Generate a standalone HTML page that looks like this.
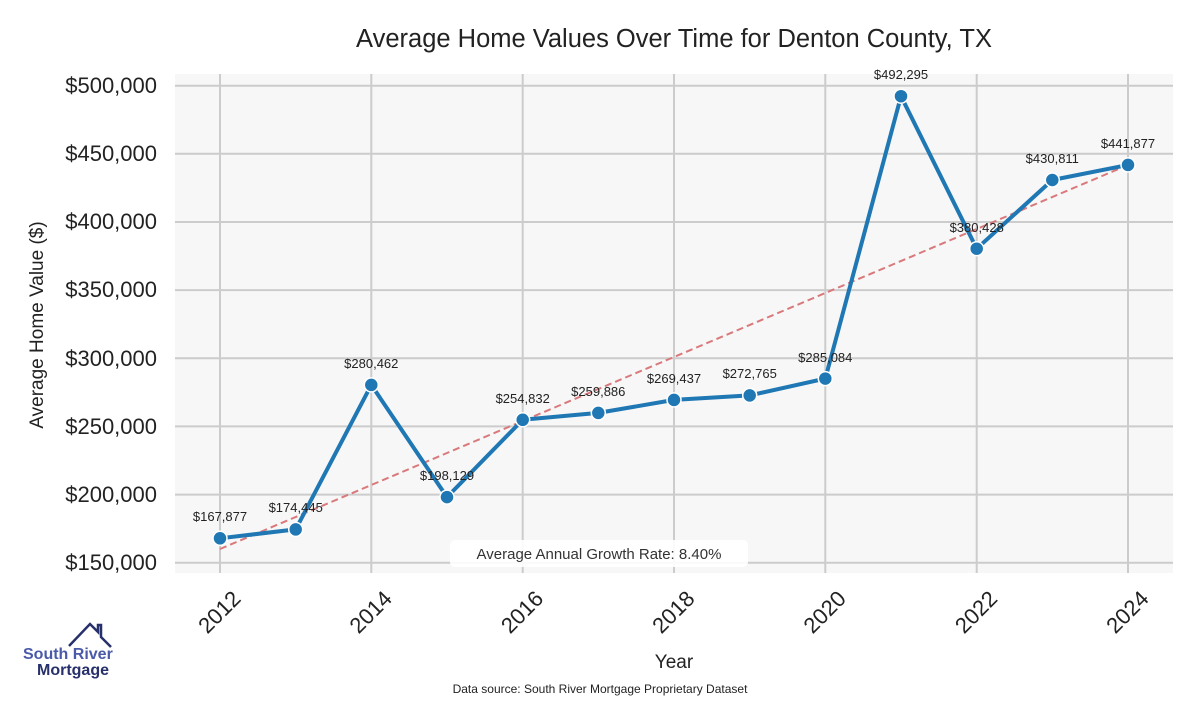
<!DOCTYPE html>
<html><head><meta charset="utf-8"><style>body{margin:0;background:#fff}</style></head><body>
<svg width="1200" height="700" xmlns="http://www.w3.org/2000/svg" font-family="Liberation Sans, sans-serif">
<rect width="1200" height="700" fill="#fff"/>
<rect x="175" y="74" width="998" height="499" fill="#f7f7f7"/>
<g stroke="#cccccc" stroke-width="2">
<line x1="175" x2="1173" y1="85.7" y2="85.7"/><line x1="175" x2="1173" y1="153.8" y2="153.8"/>
<line x1="175" x2="1173" y1="222" y2="222"/><line x1="175" x2="1173" y1="290.1" y2="290.1"/>
<line x1="175" x2="1173" y1="358.3" y2="358.3"/><line x1="175" x2="1173" y1="426.4" y2="426.4"/>
<line x1="175" x2="1173" y1="494.6" y2="494.6"/><line x1="175" x2="1173" y1="562.7" y2="562.7"/>
<line x1="220" x2="220" y1="74" y2="573"/><line x1="371.3" x2="371.3" y1="74" y2="573"/>
<line x1="522.7" x2="522.7" y1="74" y2="573"/><line x1="674" x2="674" y1="74" y2="573"/>
<line x1="825.3" x2="825.3" y1="74" y2="573"/><line x1="976.7" x2="976.7" y1="74" y2="573"/>
<line x1="1128" x2="1128" y1="74" y2="573"/>
</g>
<line x1="220" y1="549" x2="1128" y2="165" stroke="#d9797b" stroke-width="2" stroke-dasharray="7,4"/>
<polyline fill="none" stroke="#1f77b4" stroke-width="4" stroke-linejoin="round" points="220,538.3 295.7,529.4 371.3,384.9 447,497.1 522.7,419.8 598.3,412.9 674,399.9 749.7,395.4 825.3,378.6 901,96.2 976.7,248.7 1052.3,180 1128,164.9"/>
<g fill="#1f77b4" stroke="#fff" stroke-width="1.5">
<circle cx="220" cy="538.3" r="7"/><circle cx="295.7" cy="529.4" r="7"/><circle cx="371.3" cy="384.9" r="7"/><circle cx="447" cy="497.1" r="7"/><circle cx="522.7" cy="419.8" r="7"/><circle cx="598.3" cy="412.9" r="7"/><circle cx="674" cy="399.9" r="7"/><circle cx="749.7" cy="395.4" r="7"/><circle cx="825.3" cy="378.6" r="7"/><circle cx="901" cy="96.2" r="7"/><circle cx="976.7" cy="248.7" r="7"/><circle cx="1052.3" cy="180" r="7"/><circle cx="1128" cy="164.9" r="7"/>
</g>
<g font-size="13" fill="#222" text-anchor="middle">
<text x="220" y="521">$167,877</text><text x="295.7" y="512">$174,445</text><text x="371.3" y="368">$280,462</text><text x="447" y="480">$198,129</text><text x="522.7" y="403">$254,832</text><text x="598.3" y="396">$259,886</text><text x="674" y="383">$269,437</text><text x="749.7" y="378">$272,765</text><text x="825.3" y="362">$285,084</text><text x="901" y="79">$492,295</text><text x="976.7" y="232">$380,428</text><text x="1052.3" y="163">$430,811</text><text x="1128" y="148">$441,877</text>
</g>
<rect x="450" y="540" width="298" height="27" rx="5" fill="#fff" opacity="0.9"/>
<text x="599" y="559" font-size="15" fill="#333" text-anchor="middle">Average Annual Growth Rate: 8.40%</text>
<g font-size="22" fill="#222" text-anchor="end">
<text x="157" y="93">$500,000</text><text x="157" y="161">$450,000</text><text x="157" y="229">$400,000</text><text x="157" y="297">$350,000</text><text x="157" y="366">$300,000</text><text x="157" y="434">$250,000</text><text x="157" y="502">$200,000</text><text x="157" y="570">$150,000</text>
</g>
<g font-size="22" fill="#222" text-anchor="end">
<text transform="translate(242,600) rotate(-45)">2012</text><text transform="translate(393.3,600) rotate(-45)">2014</text><text transform="translate(544.7,600) rotate(-45)">2016</text><text transform="translate(696,600) rotate(-45)">2018</text><text transform="translate(847.3,600) rotate(-45)">2020</text><text transform="translate(998.7,600) rotate(-45)">2022</text><text transform="translate(1150,600) rotate(-45)">2024</text>
</g>
<text x="674" y="668" font-size="19" fill="#222" text-anchor="middle">Year</text>
<text transform="translate(43,325) rotate(-90)" font-size="19" fill="#222" text-anchor="middle">Average Home Value ($)</text>
<text x="674" y="47" font-size="25.5" fill="#222" text-anchor="middle">Average Home Values Over Time for Denton County, TX</text>
<text x="600" y="693" font-size="12" fill="#222" text-anchor="middle">Data source: South River Mortgage Proprietary Dataset</text>
<polyline points="69,646 90,624 98,632 98,625 101,625 101,637 111,647" fill="none" stroke="#27306b" stroke-width="2.5"/>
<text x="23" y="659" font-size="16" font-weight="bold" fill="#4a5aa8">South River</text>
<text x="37" y="675" font-size="16" font-weight="bold" fill="#27306b">Mortgage</text>
</svg>
</body></html>
